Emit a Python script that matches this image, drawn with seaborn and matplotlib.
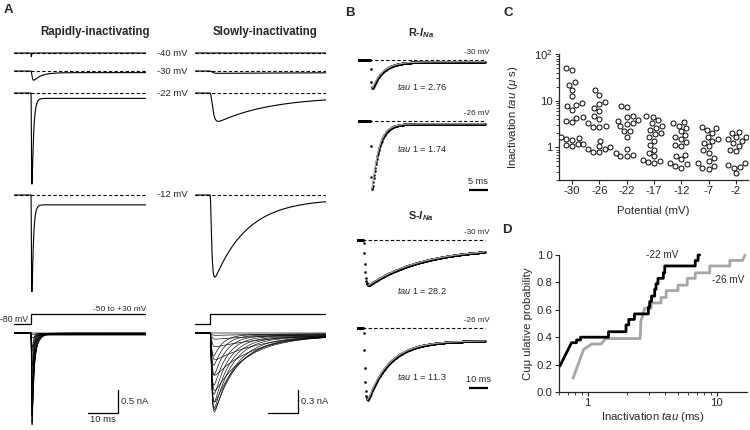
import numpy as np
import pandas as pd
import matplotlib
matplotlib.use('Agg')
import matplotlib.pyplot as plt
import seaborn as sns

# ---- C: inactivation tau at each test potential ----
potentials = ['-30', '-26', '-22', '-17', '-12', '-7', '-2']
tau_m30 = [50, 46, 25, 22, 17, 12.4, 8.8, 8.1, 7.8, 6.4, 4.4, 4.3, 3.6, 3.5, 1.7, 1.6, 1.5, 1.45, 1.2, 1.2, 1.1, 1.05]
tau_m26 = [16.9, 13.5, 9.2, 8.3, 7.0, 6.1, 4.6, 4.1, 3.3, 2.8, 2.7, 2.7, 1.4, 1.05, 1.0, 0.92, 0.92, 0.78, 0.78]
tau_m22 = [7.8, 7.2, 4.6, 4.5, 3.9, 3.7, 3.4, 3.1, 2.8, 2.2, 2.2, 1.7, 0.92, 0.76, 0.7, 0.64, 0.64]
tau_m17 = [4.6, 4.5, 3.8, 3.3, 2.8, 2.6, 2.3, 2.0, 1.9, 1.7, 1.4, 1.1, 0.89, 0.76, 0.64, 0.54, 0.5, 0.48, 0.47]
tau_m12 = [3.5, 3.3, 2.9, 2.6, 2.2, 1.8, 1.7, 1.5, 1.3, 1.1, 1.07, 0.7, 0.64, 0.56, 0.47, 0.43, 0.4, 0.37]
tau_m7 = [2.76, 2.6, 2.4, 2.05, 1.7, 1.5, 1.36, 1.26, 1.05, 0.9, 0.77, 0.6, 0.51, 0.46, 0.4, 0.37, 0.35]
tau_m2 = [2.12, 2.07, 1.7, 1.64, 1.5, 1.36, 1.26, 1.07, 0.9, 0.82, 0.46, 0.41, 0.38, 0.37, 0.28]

# ---- D: cumulative probability curves (step vertices) ----
cdf22_tau = [0.61, 0.75, 0.82, 0.82, 0.88, 0.88, 1.45, 1.45, 1.98, 1.98, 2.08, 2.08, 2.30, 2.30,
             2.95, 2.95, 3.02, 3.02, 3.12, 3.12, 3.30, 3.30, 3.38, 3.38, 3.50, 3.50, 3.85, 3.85,
             3.95, 3.95, 6.80, 6.80, 7.15, 7.15, 7.35]
cdf22_p = [0.19, 0.36, 0.36, 0.38, 0.38, 0.40, 0.40, 0.44, 0.44, 0.49, 0.49, 0.53, 0.53, 0.57,
           0.57, 0.62, 0.62, 0.66, 0.66, 0.70, 0.70, 0.75, 0.75, 0.79, 0.79, 0.83, 0.83, 0.87,
           0.87, 0.92, 0.92, 0.96, 0.96, 1.0, 1.0]
cdf26_tau = [0.77, 0.93, 1.0, 1.07, 1.27, 1.38, 2.55, 2.58, 2.70, 2.75, 3.10, 3.10, 3.70, 3.70,
             4.05, 4.05, 5.0, 5.0, 5.9, 5.9, 6.8, 6.8, 7.7, 7.7, 8.8, 8.8, 12.6, 12.6, 15.8, 16.5]
cdf26_p = [0.10, 0.31, 0.33, 0.35, 0.35, 0.39, 0.39, 0.52, 0.57, 0.61, 0.61, 0.65, 0.65, 0.69,
           0.69, 0.74, 0.74, 0.78, 0.78, 0.83, 0.83, 0.87, 0.87, 0.87, 0.87, 0.92, 0.92, 0.96, 0.96, 1.0]

# ---- A: example currents (nA, ms) ----
a_steps = ['-40 mV', '-30 mV', '-22 mV', '-12 mV']
rapid_amp = [0.08, 0.20, 1.98, 2.10]
rapid_rise = [0.03, 0.25, 0.10, 0.10]
rapid_decay = [0.15, 2.5, 0.55, 0.50]
rapid_sus = [0.0, 0.12, 0.03, 0.05]
slow_amp = [0.0, 0.03, 0.37, 1.07]
slow_rise = [0.5, 0.5, 0.6, 0.35]
slow_decay = [60, 60, 18, 11]
slow_sus = [0.0, 0.5, 0.10, 0.04]

family_steps = ['-50', '-45', '-40', '-35', '-30', '-25', '-20', '-15', '-10', '-5', '0',
                '+5', '+10', '+15', '+20', '+25', '+30']
fam_rapid_amp = [0.0, 0.03, 0.10, 0.30, 0.70, 1.10, 1.50, 1.80, 2.00, 1.95, 1.80, 1.60, 1.40, 1.15, 0.90, 0.65, 0.40]
fam_rapid_decay = [3.0, 3.0, 2.5, 2.0, 1.5, 1.1, 0.9, 0.75, 0.65, 0.60, 0.55, 0.50, 0.50, 0.45, 0.45, 0.40, 0.40]
fam_slow_amp = [0.0, 0.03, 0.08, 0.18, 0.35, 0.55, 0.75, 0.90, 1.00, 1.03, 0.98, 0.90, 0.80, 0.68, 0.55, 0.42, 0.30]
fam_slow_decay = [30, 28, 24, 20, 16, 13, 11, 9, 8, 7, 6, 5.5, 5, 4.5, 4, 3.5, 3]

# ---- B: fitted single-exponential decays ----
b_steps = ['-30 mV', '-26 mV']
r_amp = [0.56, 1.36]
r_tau = [2.76, 1.74]
r_sus = [0.05, 0.03]
s_amp = [0.90, 1.44]
s_tau = [28.2, 11.3]
s_sus = [0.15, 0.15]


def current(t, onset, amp, rise, decay, sus):
    s = np.clip(t - onset, 0, None)
    g = (1 - np.exp(-s / rise)) ** 3 * ((1 - sus) * np.exp(-s / decay) + sus)
    if amp == 0 or g.max() == 0:
        return np.zeros_like(t)
    return -amp * g / g.max()


sns.set_theme(style='ticks')
plt.rcParams['font.family'] = ['Liberation Sans', 'DejaVu Sans']
plt.rcParams['mathtext.fontset'] = 'custom'
plt.rcParams['mathtext.rm'] = 'Liberation Sans'
plt.rcParams['mathtext.it'] = 'Liberation Sans:italic'
plt.rcParams['mathtext.bf'] = 'Liberation Sans:bold'
plt.rcParams['mathtext.bfit'] = 'Liberation Sans:italic:bold'

W, H = 750, 430
fig = plt.figure(figsize=(7.5, 4.3), dpi=100)


def px_axes(x0, y0, x1, y1):
    ax = fig.add_axes([x0 / W, 1 - y1 / H, (x1 - x0) / W, (y1 - y0) / H])
    ax.set_axis_off()
    return ax


def ptext(x, y, s, **kw):
    fig.text(x / W, 1 - y / H, s, **kw)


def line(ax, x, y, color='black', lw=0.8, **kw):
    sns.lineplot(x=x, y=y, ax=ax, color=color, linewidth=lw, estimator=None, sort=False, **kw)


dash = (0, (3, 2))
base_px = [53, 71, 93, 195]
fam_px = 333

# ---------------- A ----------------
for col, (x0, x1, scale, onset, amps, rises, decays, sus, famA, famT, famS, famR) in enumerate([
        (14, 146, 46.0, 5.67, rapid_amp, rapid_rise, rapid_decay, rapid_sus,
         fam_rapid_amp, fam_rapid_decay, 0.01, 0.12),
        (195, 326, 76.7, 5.0, slow_amp, slow_rise, slow_decay, slow_sus,
         fam_slow_amp, fam_slow_decay, 0.04, 0.35)]):
    tmax = (x1 - x0) / 3
    ax = px_axes(x0, 40, x1, 430)
    ax.set_xlim(0, tmax)
    ax.set_ylim(-(430 - 40) / scale, 0)
    t = np.linspace(0, tmax, 2400)
    for k in range(4):
        off = -(base_px[k] - 40) / scale
        ax.hlines(off, 0, tmax, colors='black', linestyles=dash, lw=0.8)
        line(ax, t, off + current(t, onset, amps[k], rises[k], decays[k], sus[k]))
    off = -(fam_px - 40) / scale
    fam = pd.concat([pd.DataFrame({'step': s, 't': t,
                                   'i': off + current(t, onset, a, famR, d, famS)})
                     for s, a, d in zip(family_steps, famA, famT)])
    sns.lineplot(data=fam, x='t', y='i', units='step', estimator=None, sort=False,
                 color='black', linewidth=0.45, ax=ax)
    # scale bar
    bx = (x1 - x0 - 28) / 3 if col == 0 else (298 - x0) / 3
    yb = -(413 - 40) / scale
    amp_bar = 0.5 if col == 0 else 0.3
    ax.plot([bx - 10, bx, bx], [yb, yb, yb + amp_bar], color='black', lw=0.9, clip_on=False)
    ax.text(bx + 1, yb + amp_bar / 2, '0.5 nA' if col == 0 else '0.3 nA',
            fontsize=6.8, va='center', ha='left')
    if col == 0:
        ax.text(bx - 5, yb - 2 / scale, '10 ms', fontsize=6.8, va='top', ha='center')
    # voltage protocol
    axp = px_axes(x0, 306, x1, 330)
    axp.set_xlim(0, tmax)
    axp.set_ylim(-98, -26)
    line(axp, [0, onset, onset, tmax], [-80, -80, -50, -50], lw=0.9)
    if col == 0:
        axp.text(-4.67, -79, '-80 mV', fontsize=6.3, va='bottom', ha='left')
        axp.text(tmax, -46, '-50 to +30 mV', fontsize=6.0, va='bottom', ha='right')

for k, lab in enumerate(a_steps):
    ptext(172, base_px[k], lab, fontsize=6.8, ha='center', va='center')
ptext(95, 32, 'Rapidly-inactivating', fontsize=8.3, fontweight='bold', ha='center', va='center')
ptext(265, 32, 'Slowly-inactivating', fontsize=8.3, fontweight='bold', ha='center', va='center')

# ---------------- B ----------------
for (x0, y0, y1, pxms, bases, amps, taus, suss, rise, name, bar_ms, tau_y) in [
        (358, 40, 200, 3.9, [60, 121], r_amp, r_tau, r_sus, 0.12, 'R', 5, [86, 149]),
        (357, 225, 415, 1.93, [240, 327.5], s_amp, s_tau, s_sus, 0.5, 'S', 10, [290, 377])]:
    ax = px_axes(x0, y0, 490, y1)
    tmax = (490 - x0) / pxms
    tend = (485 - x0) / pxms
    ax.set_xlim(0, tmax)
    ax.set_ylim(-(y1 - y0) / 50, 0)
    onset = (363 - x0) / pxms if name == 'S' else (370 - x0) / pxms
    td = np.arange(0, tend, 0.5 / pxms)
    tf = np.linspace(0, tend, 1500)
    for k in range(2):
        off = -(bases[k] - y0) / 50
        ax.hlines(off, 0, tend, colors='black', linestyles=dash, lw=0.8)
        yd = current(td, onset, amps[k], rise, taus[k], suss[k])
        sns.scatterplot(x=td, y=off + yd, ax=ax, s=3.5, color='black', linewidth=0)
        yf = current(tf, onset, amps[k], rise, taus[k], suss[k])
        keep = tf >= tf[np.argmin(yf)]
        line(ax, tf[keep], off + yf[keep], color='#a8a8a8', lw=0.9)
        ax.text(tmax, off + 4 / 50, b_steps[k], fontsize=5.8, ha='right', va='bottom')
        ptext(422, tau_y[k], r'$\it{tau}$ $\it{1}$ = ' + f'{taus[k]:g}', fontsize=6.6,
              ha='center', va='center')
    yb = -((190 if name == 'R' else 388) - y0) / 50
    xb1 = (488 - x0) / pxms
    ax.plot([xb1 - bar_ms, xb1], [yb, yb], color='black', lw=1.6, solid_capstyle='butt')
    ax.text(xb1 - bar_ms / 2, yb + 4 / 50, f'{bar_ms} ms', fontsize=6.6, ha='center', va='bottom')

ptext(421, 33, r'R-$\mathbfit{I}_{\mathbfit{Na}}$', fontsize=7.8, fontweight='bold', ha='center', va='center')
ptext(421, 216, r'S-$\mathbfit{I}_{\mathbfit{Na}}$', fontsize=7.8, fontweight='bold', ha='center', va='center')

# ---------------- C ----------------
df_c = pd.DataFrame({
    'potential': sum([[p] * len(v) for p, v in zip(potentials, [tau_m30, tau_m26, tau_m22, tau_m17,
                                                             tau_m12, tau_m7, tau_m2])], []),
    'tau': tau_m30 + tau_m26 + tau_m22 + tau_m17 + tau_m12 + tau_m7 + tau_m2})
ax_c = px_axes(559, 54, 748, 180)
ax_c.set_axis_on()
ax_c.set_yscale('log')
sns.swarmplot(data=df_c, x='potential', y='tau', order=potentials, color='white',
              edgecolor='black', linewidth=0.7, size=3.6, ax=ax_c)
ax_c.set_ylim(0.2, 100)
ax_c.set_xlim(-0.476, 6.44)
ax_c.set_yticks([1, 10, 100])
ax_c.set_yticklabels(['1', '10', '$10^2$'])
ax_c.set_xlabel('Potential (mV)', fontsize=8.2, labelpad=7)
ax_c.set_ylabel(r'Inactivation $\it{tau}$ ($\mu$ s)', fontsize=8.2, labelpad=10)
sns.despine(ax=ax_c)

# ---------------- D ----------------
ax_d = px_axes(559, 255, 747, 392)
ax_d.set_axis_on()
ax_d.set_xscale('log')
line(ax_d, cdf26_tau, cdf26_p, color='#a6a6a6', lw=2.0, clip_on=False)
line(ax_d, cdf22_tau, cdf22_p, color='black', lw=2.0, clip_on=False)
ax_d.set_xlim(0.6, 17.1)
ax_d.set_ylim(0, 1)
ax_d.set_yticks([0, 0.2, 0.4, 0.6, 0.8, 1.0])
ax_d.set_yticklabels(['0.0', '0.2', '0.4', '0.6', '0.8', '1.0'])
ax_d.set_xticks([1, 10])
ax_d.set_xticklabels(['1', '10'])
ax_d.xaxis.set_minor_formatter(matplotlib.ticker.NullFormatter())
ax_d.text(3.8, 1.0, '-22 mV', fontsize=7.2, ha='center', va='center')
ax_d.text(12.3, 0.82, '-26 mV', fontsize=7.2, ha='center', va='center')
ax_d.set_xlabel(r'Inactivation $\it{tau}$ (ms)', fontsize=8.2, labelpad=1)
ax_d.set_ylabel('Cu\u03bc ulative probability', fontsize=8.2, labelpad=3)
sns.despine(ax=ax_d)

for ax in (ax_c, ax_d):
    ax.tick_params(which='major', direction='out', length=3, width=0.8, labelsize=8.2, pad=1.5)
    ax.tick_params(which='minor', direction='out', length=2, width=0.6)
    for sp in ax.spines.values():
        sp.set_linewidth(0.9)

for lab, x, y in [('A', 8, 10), ('B', 350, 13), ('C', 508, 13), ('D', 507, 230)]:
    ptext(x, y, lab, fontsize=9.5, fontweight='bold', ha='center', va='center')

fig.savefig('out.png', dpi=100, facecolor='white')
